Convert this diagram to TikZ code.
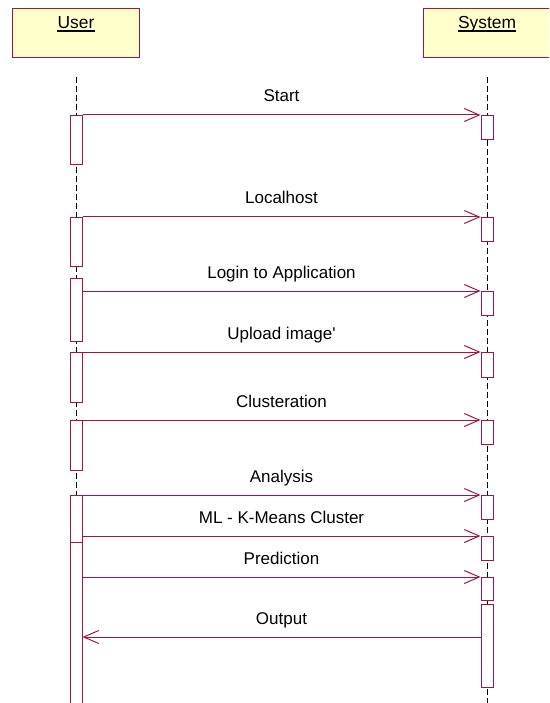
\documentclass[tikz,border=0pt]{standalone}
\usepackage{fontspec}
\setmainfont{Liberation Sans}[Ligatures=TeXOff]
\usetikzlibrary{arrows.meta}
\definecolor{mc}{RGB}{160,20,70}
\definecolor{boxfill}{RGB}{255,255,204}
\tikzset{
  lifebox/.style={draw=mc, fill=boxfill, line width=1pt, rectangle, inner sep=0pt, minimum width=127pt, minimum height=49pt, anchor=north},
  ttl/.style={inner sep=0pt, anchor=base, font=\fontsize{17.4}{20}\selectfont},
  lifeline/.style={draw=black, line width=1pt, dash pattern=on 6pt off 3pt},
  actbar/.style={draw=mc, fill=white, line width=1pt, rectangle, inner sep=0pt, minimum width=12pt, anchor=north},
  msg/.style={draw=mc, line width=1pt, -{Straight Barb[length=15pt,width=13pt]}},
  lbl/.style={inner sep=0pt, anchor=base, yshift=13pt, font=\fontsize{17}{20}\selectfont}
}
\begin{document}
\begin{tikzpicture}[x=1pt,y=-1pt]
\useasboundingbox (0,0) rectangle (549,703);
\clip (0,0) rectangle (549,703);
% participants
\node[lifebox] (ubox) at (75.5,8) {};
\node[lifebox] (sbox) at (486.5,8) {};
\node[ttl] (ut) at (76,28.3) {User};
\node[ttl] (st) at (487,28.3) {System};
\draw[line width=1.3pt] ([yshift=-2.7pt]ut.base west) -- ([yshift=-2.7pt]ut.base east);
\draw[line width=1.3pt] ([yshift=-2.7pt]st.base west) -- ([yshift=-2.7pt]st.base east);
% lifelines
\coordinate (uend) at (76,703);
\coordinate (send) at (487,703);
\draw[lifeline] (76,76.7) -- (uend);
\draw[lifeline] (487,76.7) -- (send);
% user activation bars
\node[actbar, minimum height=49pt] (u1) at (76,115) {};
\node[actbar, minimum height=49pt] (u2) at (76,217) {};
\node[actbar, minimum height=63pt] (u3) at (76,278) {};
\node[actbar, minimum height=50pt] (u4) at (76,352) {};
\node[actbar, minimum height=50pt] (u5) at (76,420) {};
\node[actbar, minimum height=220pt] (u6) at (76,495) {};
\node[actbar, minimum height=180pt] (u7) at (76,542) {};
% system activation bars
\node[actbar, minimum height=24pt] (s1) at (487,115) {};
\node[actbar, minimum height=24pt] (s2) at (487,217) {};
\node[actbar, minimum height=24pt] (s3) at (487,291) {};
\node[actbar, minimum height=25pt] (s4) at (487,352) {};
\node[actbar, minimum height=24pt] (s5) at (487,420) {};
\node[actbar, minimum height=24pt] (s6) at (487,495) {};
\node[actbar, minimum height=24pt] (s7) at (487,536) {};
\node[actbar, minimum height=23pt] (s8) at (487,577) {};
\node[actbar, minimum height=83pt] (s9) at (487,604) {};
% messages
\draw[msg] (u1.north east) -- node[lbl] {Start} (s1.north west);
\draw[msg] (u2.north east) -- node[lbl] {Localhost} (s2.north west);
\draw[msg] (u3.east |- s3.north west) -- node[lbl] {Login to Application} (s3.north west);
\draw[msg] (u4.north east) -- node[lbl] {Upload image'} (s4.north west);
\draw[msg] (u5.north east) -- node[lbl] {Clusteration} (s5.north west);
\draw[msg] (u6.north east) -- node[lbl] {Analysis} (s6.north west);
\draw[msg] (u6.east |- s7.north west) -- node[lbl] {ML - K-Means Cluster} (s7.north west);
\draw[msg] (u7.east |- s8.north west) -- node[lbl] {Prediction} (s8.north west);
\coordinate (oy) at (487,637);
\draw[msg] (s9.west |- oy) -- node[lbl] {Output} (u7.east |- oy);
\end{tikzpicture}
\end{document}
